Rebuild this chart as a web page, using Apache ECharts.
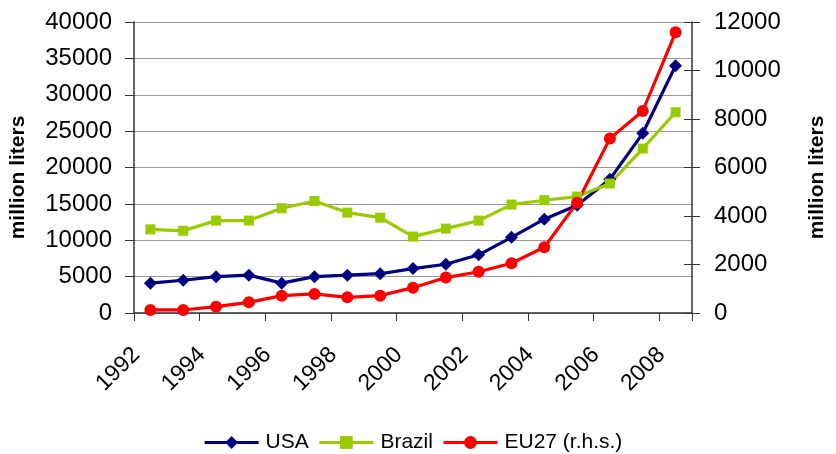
<!DOCTYPE html>
<html>
<head>
<meta charset="utf-8">
<script src="https://cdn.jsdelivr.net/npm/echarts@6/dist/echarts.min.js"></script>
<style>html,body{margin:0;padding:0;background:#fff}#c{width:836px;height:454px}</style>
</head>
<body>
<div id="c"></div>
<script>
var years = ['1992','1993','1994','1995','1996','1997','1998','1999','2000','2001','2002','2003','2004','2005','2006','2007','2008'];
var usa = [4100, 4500, 5000, 5200, 4100, 5000, 5200, 5400, 6100, 6700, 8000, 10400, 12900, 14800, 18400, 24700, 34000];
var brazil = [11500, 11300, 12700, 12700, 14400, 15400, 13800, 13100, 10500, 11600, 12700, 14900, 15500, 16000, 17800, 22600, 27600];
var eu27 = [125, 125, 260, 440, 715, 785, 645, 715, 1045, 1460, 1700, 2050, 2710, 4550, 7200, 8330, 11575];
var seriesNames = ['USA', 'Brazil', 'EU27 (r.h.s.)'];
var axisTitle = 'million liters';

var FONT = '"Liberation Sans", Arial, sans-serif';
var chart = echarts.init(document.getElementById('c'), null, {renderer: 'canvas'});
var axisLineStyle = {color: '#333', width: 1.5};
var plain = function (v) { return String(v); };
chart.setOption({
  animation: false,
  backgroundColor: '#fff',
  textStyle: {fontFamily: FONT},
  grid: {left: 133, right: 136, top: 22, bottom: 141},
  legend: {
    top: 427, left: 198,
    itemWidth: 54, itemHeight: 16, itemGap: 9,
    lineStyle: {width: 3.2},
    textStyle: {fontFamily: FONT, fontSize: 21, color: '#000', padding: [0, 0, 0, 2]},
    data: seriesNames
  },
  xAxis: {
    type: 'category',
    data: years,
    boundaryGap: true,
    axisLine: {lineStyle: axisLineStyle},
    axisTick: {show: true, length: 8, lineStyle: {color: '#333', width: 1}},
    axisLabel: {interval: 1, rotate: 45, fontSize: 23, color: '#000', fontFamily: FONT, margin: 24, padding: [0, 20, 0, 0]},
    splitLine: {show: false}
  },
  yAxis: [
    {
      type: 'value', min: 0, max: 40000, interval: 5000, position: 'left',
      name: axisTitle, nameLocation: 'middle', nameRotate: 90, nameGap: 105,
      nameTextStyle: {fontFamily: FONT, fontSize: 21, fontWeight: 'bold', color: '#000', padding: [0, 20, 0, 0]},
      axisLine: {show: true, lineStyle: axisLineStyle},
      axisTick: {show: true, length: 9, lineStyle: {color: '#333', width: 1}},
      axisLabel: {fontSize: 24, color: '#000', fontFamily: FONT, margin: 22, formatter: plain},
      splitLine: {show: true, lineStyle: {color: '#999', width: 1.2}}
    },
    {
      type: 'value', min: 0, max: 12000, interval: 2000, position: 'right',
      name: axisTitle, nameLocation: 'middle', nameRotate: 90, nameGap: 115,
      nameTextStyle: {fontFamily: FONT, fontSize: 21, fontWeight: 'bold', color: '#000', padding: [0, 20, 0, 0]},
      axisLine: {show: true, lineStyle: axisLineStyle},
      axisTick: {show: true, length: 8, lineStyle: {color: '#333', width: 1}},
      axisLabel: {fontSize: 24, color: '#000', fontFamily: FONT, margin: 22, formatter: plain},
      splitLine: {show: false}
    },
    {
      type: 'value', min: 0, max: 12000, interval: 2000, position: 'right', offset: 0,
      axisLine: {show: false},
      axisTick: {show: true, inside: true, length: 8, lineStyle: {color: '#333', width: 1}},
      axisLabel: {show: false},
      splitLine: {show: false}
    }
  ],
  series: [
    {
      name: seriesNames[0], type: 'line', data: usa, yAxisIndex: 0,
      symbol: 'diamond', symbolSize: 13,
      lineStyle: {color: '#000080', width: 3.2}, itemStyle: {color: '#000080'}
    },
    {
      name: seriesNames[1], type: 'line', data: brazil, yAxisIndex: 0,
      symbol: 'rect', symbolSize: 10,
      lineStyle: {color: '#99CC00', width: 3.2}, itemStyle: {color: '#99CC00'}
    },
    {
      name: seriesNames[2], type: 'line', data: eu27, yAxisIndex: 1,
      symbol: 'circle', symbolSize: 12,
      lineStyle: {color: '#FF0000', width: 3.2}, itemStyle: {color: '#FF0000'}
    }
  ]
});
</script>
</body>
</html>
